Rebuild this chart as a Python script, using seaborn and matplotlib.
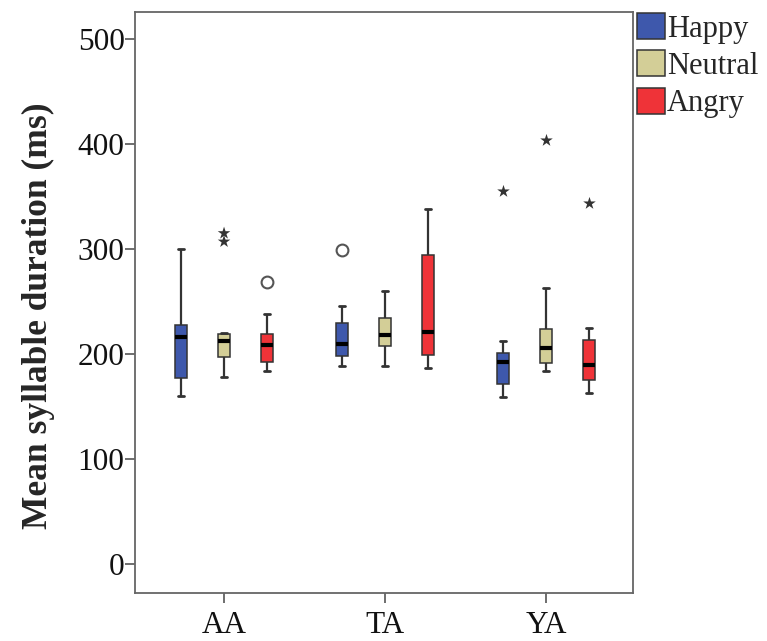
import matplotlib
matplotlib.use("Agg")
import matplotlib.pyplot as plt
import seaborn as sns
import pandas as pd

# ---- data (five-number summaries) ----
groups = ["AA", "TA", "YA"]
emotions = ["Happy", "Neutral", "Angry"]

# [min, q1, median, q3, max] per group
happy_stats = [[160, 177, 216, 228, 300],
               [189, 198, 210, 230, 246],
               [159, 171, 192, 201, 212]]
neutral_stats = [[178, 197, 212, 219, 220],
                 [189, 208, 218, 234, 260],
                 [184, 191, 206, 224, 263]]
angry_stats = [[184, 192, 209, 219, 238],
               [187, 199, 221, 294, 338],
               [163, 175, 190, 213, 225]]

# outliers (circle) and extremes (star)
circle_group = ["AA", "TA"]
circle_emotion = ["Angry", "Happy"]
circle_value = [269, 299]

star_group = ["AA", "AA", "YA", "YA", "YA"]
star_emotion = ["Neutral", "Neutral", "Happy", "Neutral", "Angry"]
star_value = [315, 307, 355, 404, 344]

colors = {"Happy": "#3E58AC", "Neutral": "#D3CE97", "Angry": "#EF3338"}

# ---- build long table ----
rows = []
for emo, stats in zip(emotions, [happy_stats, neutral_stats, angry_stats]):
    for g, vals in zip(groups, stats):
        for v in vals:
            rows.append({"group": g, "emotion": emo, "value": v})
df = pd.DataFrame(rows)
df_circ = pd.DataFrame({"group": circle_group, "emotion": circle_emotion, "value": circle_value})
df_star = pd.DataFrame({"group": star_group, "emotion": star_emotion, "value": star_value})

sns.set_theme(style="white")
plt.rcParams["font.family"] = ["Liberation Serif", "DejaVu Serif"]

fig = plt.figure(figsize=(7.67, 6.41), dpi=100)
ax = fig.add_axes([135 / 767, 1 - 593 / 641, (633 - 135) / 767, (593 - 12) / 641])

sns.boxplot(data=df, x="group", y="value", hue="emotion",
            order=groups, hue_order=emotions, palette=colors, saturation=1,
            whis=(0, 100), showfliers=False, width=0.8, gap=0.735,
            linecolor="#333333", linewidth=1.1,
            medianprops={"color": "black", "linewidth": 3},
            whiskerprops={"color": "#333333", "linewidth": 1.6},
            capprops={"color": "#333333", "linewidth": 2},
            ax=ax)

sns.stripplot(data=df_circ, x="group", y="value", hue="emotion",
              order=groups, hue_order=emotions, dodge=True, jitter=False,
              palette={e: "white" for e in emotions}, edgecolor="#555555",
              linewidth=1.5, size=8.5, marker="o", legend=False, ax=ax)

sns.stripplot(data=df_star, x="group", y="value", hue="emotion",
              order=groups, hue_order=emotions, dodge=True, jitter=False,
              palette={e: "#333333" for e in emotions}, linewidth=0,
              size=9.5, marker="*", legend=False, ax=ax)

ax.set_ylim(-27.6, 525.7)
ax.set_xlim(-0.553, 2.54)
ax.set_yticks([0, 100, 200, 300, 400, 500])
ax.set_xlabel("")
ax.set_ylabel("Mean syllable duration (ms)", fontsize=25.5, fontweight="bold")
ax.yaxis.set_label_coords(-0.16, 0.478)

for sp in ax.spines.values():
    sp.set_visible(True)
    sp.set_color("#666666")
    sp.set_linewidth(1.3)
ax.tick_params(axis="both", which="major", direction="out", length=7, width=1.2,
               color="#555555", labelsize=22.5, left=True, bottom=True, labelcolor="#111111")
ax.tick_params(axis="x", pad=6)
ax.tick_params(axis="y", pad=0.5)

sns.move_legend(ax, "upper left", bbox_to_anchor=(1.008, 0.998), frameon=False,
                title=None, fontsize=22, handlelength=0.93, handleheight=0.93,
                labelspacing=0.22, handletextpad=0.06, borderpad=0, borderaxespad=0)
for h in ax.get_legend().legend_handles:
    h.set_edgecolor("#333333")
    h.set_linewidth(1.1)

fig.savefig("out.png", dpi=100)
